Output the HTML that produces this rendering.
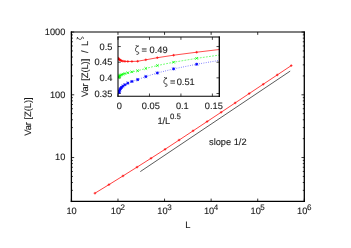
<!DOCTYPE html>
<html><head><meta charset="utf-8"><title>plot</title>
<style>html,body{margin:0;padding:0;background:#fff;}svg{display:block;will-change:transform;}text{font-family:"Liberation Sans",sans-serif;font-size:9.25px;fill:#1a1a1a;text-rendering:geometricPrecision;stroke:#1a1a1a;stroke-width:0.12px;}</style></head><body>
<svg width="351" height="248" viewBox="0 0 351 248">
<rect x="0" y="0" width="351" height="248" fill="#ffffff"/>
<path d="M71.40 201.40 v-2.80 M71.40 32.05 v2.80 M117.98 201.40 v-2.80 M117.98 32.05 v2.80 M164.56 201.40 v-2.80 M164.56 32.05 v2.80 M211.14 201.40 v-2.80 M211.14 32.05 v2.80 M257.72 201.40 v-2.80 M257.72 32.05 v2.80 M304.30 201.40 v-2.80 M304.30 32.05 v2.80 M71.40 157.54 h2.80 M304.30 157.54 h-2.80 M71.40 94.80 h2.80 M304.30 94.80 h-2.80 M71.40 32.05 h2.80 M304.30 32.05 h-2.80 M71.40 201.40 h1.50 M304.30 201.40 h-1.50 M71.40 190.35 h1.50 M304.30 190.35 h-1.50 M71.40 182.51 h1.50 M304.30 182.51 h-1.50 M71.40 176.43 h1.50 M304.30 176.43 h-1.50 M71.40 171.46 h1.50 M304.30 171.46 h-1.50 M71.40 167.26 h1.50 M304.30 167.26 h-1.50 M71.40 163.62 h1.50 M304.30 163.62 h-1.50 M71.40 160.41 h1.50 M304.30 160.41 h-1.50 M71.40 138.65 h1.50 M304.30 138.65 h-1.50 M71.40 127.60 h1.50 M304.30 127.60 h-1.50 M71.40 119.77 h1.50 M304.30 119.77 h-1.50 M71.40 113.68 h1.50 M304.30 113.68 h-1.50 M71.40 108.72 h1.50 M304.30 108.72 h-1.50 M71.40 104.52 h1.50 M304.30 104.52 h-1.50 M71.40 100.88 h1.50 M304.30 100.88 h-1.50 M71.40 97.67 h1.50 M304.30 97.67 h-1.50 M71.40 75.91 h1.50 M304.30 75.91 h-1.50 M71.40 64.86 h1.50 M304.30 64.86 h-1.50 M71.40 57.02 h1.50 M304.30 57.02 h-1.50 M71.40 50.94 h1.50 M304.30 50.94 h-1.50 M71.40 45.97 h1.50 M304.30 45.97 h-1.50 M71.40 41.77 h1.50 M304.30 41.77 h-1.50 M71.40 38.13 h1.50 M304.30 38.13 h-1.50 M71.40 34.92 h1.50 M304.30 34.92 h-1.50" stroke="#000" stroke-width="0.8" fill="none"/>
<polyline points="94.93,193.21 108.95,184.65 122.97,175.94 137.00,167.15 151.02,158.29 165.04,149.31 179.06,140.09 193.08,130.84 207.11,121.56 221.13,112.27 235.15,102.93 249.17,93.58 263.19,84.26 277.22,74.94 291.24,65.61" fill="none" stroke="#ff0000" stroke-width="0.75"/>
<path d="M93.63 193.21 h2.6 M94.93 191.91 v2.6 M107.65 184.65 h2.6 M108.95 183.35 v2.6 M121.67 175.94 h2.6 M122.97 174.64 v2.6 M135.70 167.15 h2.6 M137.00 165.85 v2.6 M149.72 158.29 h2.6 M151.02 156.99 v2.6 M163.74 149.31 h2.6 M165.04 148.01 v2.6 M177.76 140.09 h2.6 M179.06 138.79 v2.6 M191.78 130.84 h2.6 M193.08 129.54 v2.6 M205.81 121.56 h2.6 M207.11 120.26 v2.6 M219.83 112.27 h2.6 M221.13 110.97 v2.6 M233.85 102.93 h2.6 M235.15 101.63 v2.6 M247.87 93.58 h2.6 M249.17 92.28 v2.6 M261.89 84.26 h2.6 M263.19 82.96 v2.6 M275.92 74.94 h2.6 M277.22 73.64 v2.6 M289.94 65.61 h2.6 M291.24 64.31 v2.6" stroke="#ff0000" stroke-width="0.7" fill="none"/>
<line x1="140.30" y1="171.60" x2="290.20" y2="71.10" stroke="#000" stroke-width="0.65"/>
<g stroke="#000" stroke-linecap="square" fill="none">
<line x1="71.40" y1="32.05" x2="71.40" y2="201.40" stroke-width="1.3"/>
<line x1="71.40" y1="32.05" x2="304.30" y2="32.05" stroke-width="1.05"/>
<line x1="304.30" y1="32.05" x2="304.30" y2="201.40" stroke-width="1.3"/>
<line x1="71.40" y1="201.40" x2="304.30" y2="201.40" stroke-width="1.3"/>
</g>
<rect x="118.00" y="37.05" width="101.30" height="59.25" fill="#fff" stroke="none"/>
<clipPath id="ic"><rect x="118.00" y="35.05" width="101.30" height="63.25"/></clipPath>
<path d="M118.00 96.30 v-2.80 M118.00 37.05 v2.80 M149.47 96.30 v-2.80 M149.47 37.05 v2.80 M180.93 96.30 v-2.80 M180.93 37.05 v2.80 M212.39 96.30 v-2.80 M212.39 37.05 v2.80 M118.00 93.50 h2.80 M219.30 93.50 h-2.80 M118.00 77.85 h2.80 M219.30 77.85 h-2.80 M118.00 62.20 h2.80 M219.30 62.20 h-2.80 M118.00 46.55 h2.80 M219.30 46.55 h-2.80" stroke="#000" stroke-width="0.72" fill="none"/>
<g clip-path="url(#ic)">
<polyline points="229.25,48.32 196.66,52.21 173.62,55.20 157.33,57.71 145.81,59.80 137.67,61.25 131.91,61.44 127.83,61.45 124.95,61.35 122.92,61.13 121.48,60.73 120.46,60.19 119.74,59.87 119.23,59.51 118.87,59.16 118.45,58.20" fill="none" stroke="#ff0000" stroke-width="0.7"/>
<path d="M227.95 48.32 h2.6 M229.25 47.02 v2.6 M195.36 52.21 h2.6 M196.66 50.91 v2.6 M172.32 55.20 h2.6 M173.62 53.90 v2.6 M156.03 57.71 h2.6 M157.33 56.41 v2.6 M144.51 59.80 h2.6 M145.81 58.50 v2.6 M136.37 61.25 h2.6 M137.67 59.95 v2.6 M130.61 61.44 h2.6 M131.91 60.14 v2.6 M126.53 61.45 h2.6 M127.83 60.15 v2.6 M123.65 61.35 h2.6 M124.95 60.05 v2.6 M121.62 61.13 h2.6 M122.92 59.83 v2.6 M120.18 60.73 h2.6 M121.48 59.43 v2.6 M119.16 60.19 h2.6 M120.46 58.89 v2.6 M118.44 59.87 h2.6 M119.74 58.57 v2.6 M117.93 59.51 h2.6 M119.23 58.21 v2.6 M117.57 59.16 h2.6 M118.87 57.86 v2.6 M117.15 58.20 h2.6 M118.45 56.90 v2.6" stroke="#ff0000" stroke-width="0.7" fill="none"/>
<polyline points="229.25,53.59 196.66,58.35 173.62,62.20 157.33,65.55 145.81,68.46 137.67,70.74 131.91,71.84 127.83,72.75 124.95,73.56 122.92,74.25 121.48,74.78 120.46,75.19 119.74,75.78 119.23,76.35 118.87,76.91 118.45,77.60" fill="none" stroke="#00ff00" stroke-width="0.55" stroke-dasharray="1.9 1.2"/>
<path d="M227.95 52.29 l2.6 2.6 M227.95 54.89 l2.6 -2.6 M195.36 57.05 l2.6 2.6 M195.36 59.65 l2.6 -2.6 M172.32 60.90 l2.6 2.6 M172.32 63.50 l2.6 -2.6 M156.03 64.25 l2.6 2.6 M156.03 66.85 l2.6 -2.6 M144.51 67.16 l2.6 2.6 M144.51 69.76 l2.6 -2.6 M136.37 69.44 l2.6 2.6 M136.37 72.04 l2.6 -2.6 M130.61 70.54 l2.6 2.6 M130.61 73.14 l2.6 -2.6 M126.53 71.45 l2.6 2.6 M126.53 74.05 l2.6 -2.6 M123.65 72.26 l2.6 2.6 M123.65 74.86 l2.6 -2.6 M121.62 72.95 l2.6 2.6 M121.62 75.55 l2.6 -2.6 M120.18 73.48 l2.6 2.6 M120.18 76.08 l2.6 -2.6 M119.16 73.89 l2.6 2.6 M119.16 76.49 l2.6 -2.6 M118.44 74.48 l2.6 2.6 M118.44 77.08 l2.6 -2.6 M117.93 75.05 l2.6 2.6 M117.93 77.65 l2.6 -2.6 M117.57 75.61 l2.6 2.6 M117.57 78.21 l2.6 -2.6 M117.15 76.30 l2.6 2.6 M117.15 78.90 l2.6 -2.6" stroke="#00ff00" stroke-width="0.8" fill="none"/>
<polyline points="229.25,58.68 196.66,64.24 173.62,68.87 157.33,72.97 145.81,76.60 137.67,79.60 131.91,81.47 127.83,83.15 124.95,84.72 122.92,86.16 121.48,87.45 120.46,88.61 119.74,89.93 119.23,91.21 118.87,92.48" fill="none" stroke="#0000ff" stroke-width="0.6" stroke-dasharray="0.8 1.5"/>
<path d="M227.95 57.38 l2.6 2.6 M227.95 59.98 l2.6 -2.6 M227.75 58.68 h3 M229.25 57.18 v3 M195.36 62.94 l2.6 2.6 M195.36 65.54 l2.6 -2.6 M195.16 64.24 h3 M196.66 62.74 v3 M172.32 67.57 l2.6 2.6 M172.32 70.17 l2.6 -2.6 M172.12 68.87 h3 M173.62 67.37 v3 M156.03 71.67 l2.6 2.6 M156.03 74.27 l2.6 -2.6 M155.83 72.97 h3 M157.33 71.47 v3 M144.51 75.30 l2.6 2.6 M144.51 77.90 l2.6 -2.6 M144.31 76.60 h3 M145.81 75.10 v3 M136.37 78.30 l2.6 2.6 M136.37 80.90 l2.6 -2.6 M136.17 79.60 h3 M137.67 78.10 v3 M130.61 80.17 l2.6 2.6 M130.61 82.77 l2.6 -2.6 M130.41 81.47 h3 M131.91 79.97 v3 M126.53 81.85 l2.6 2.6 M126.53 84.45 l2.6 -2.6 M126.33 83.15 h3 M127.83 81.65 v3 M123.65 83.42 l2.6 2.6 M123.65 86.02 l2.6 -2.6 M123.45 84.72 h3 M124.95 83.22 v3 M121.62 84.86 l2.6 2.6 M121.62 87.46 l2.6 -2.6 M121.42 86.16 h3 M122.92 84.66 v3 M120.18 86.15 l2.6 2.6 M120.18 88.75 l2.6 -2.6 M119.98 87.45 h3 M121.48 85.95 v3 M119.16 87.31 l2.6 2.6 M119.16 89.91 l2.6 -2.6 M118.96 88.61 h3 M120.46 87.11 v3 M118.44 88.63 l2.6 2.6 M118.44 91.23 l2.6 -2.6 M118.24 89.93 h3 M119.74 88.43 v3 M117.93 89.91 l2.6 2.6 M117.93 92.51 l2.6 -2.6 M117.73 91.21 h3 M119.23 89.71 v3 M117.57 91.18 l2.6 2.6 M117.57 93.78 l2.6 -2.6 M117.37 92.48 h3 M118.87 90.98 v3" stroke="#0000ff" stroke-width="0.85" fill="none"/>
</g>
<g stroke="#000" stroke-linecap="square" fill="none">
<line x1="118.00" y1="37.05" x2="118.00" y2="96.30" stroke-width="1.05"/>
<line x1="118.00" y1="37.05" x2="219.30" y2="37.05" stroke-width="1.05"/>
<line x1="219.30" y1="37.05" x2="219.30" y2="96.30" stroke-width="1.3"/>
<line x1="118.00" y1="96.30" x2="219.30" y2="96.30" stroke-width="1.1"/>
</g>
<filter id="nf" x="0" y="0" width="351" height="248" filterUnits="userSpaceOnUse"><feGaussianBlur stdDeviation="0.28"/></filter><g filter="url(#nf)">
<text x="65.4" y="34.85" text-anchor="end">1000</text>
<text x="65.4" y="97.60" text-anchor="end">100</text>
<text x="65.4" y="160.34" text-anchor="end">10</text>
<text x="71.60" y="214.15" text-anchor="middle">10</text>
<text x="110.78" y="214.15">10<tspan font-size="8" dx="-0.5" dy="-4.1">2</tspan></text>
<text x="157.36" y="214.15">10<tspan font-size="8" dx="-0.5" dy="-4.1">3</tspan></text>
<text x="203.94" y="214.15">10<tspan font-size="8" dx="-0.5" dy="-4.1">4</tspan></text>
<text x="250.52" y="214.15">10<tspan font-size="8" dx="-0.5" dy="-4.1">5</tspan></text>
<text x="297.10" y="214.15">10<tspan font-size="8" dx="-0.5" dy="-4.1">6</tspan></text>
<text x="187.8" y="227.6" text-anchor="middle">L</text>
<text transform="translate(31.4 116.6) rotate(-90)" text-anchor="middle">Var [Z(L)]</text>
<text x="209" y="144.6">slope 1/2</text>
<text x="112.4" y="49.55" text-anchor="end">0.5</text>
<text x="112.4" y="65.20" text-anchor="end">0.45</text>
<text x="112.4" y="80.85" text-anchor="end">0.4</text>
<text x="112.4" y="96.50" text-anchor="end">0.35</text>
<text x="119.40" y="109" text-anchor="middle">0</text>
<text x="150.87" y="109" text-anchor="middle">0.05</text>
<text x="182.33" y="109" text-anchor="middle">0.1</text>
<text x="213.79" y="109" text-anchor="middle">0.15</text>
<text x="157.4" y="123.8">1/L<tspan font-size="7.8" dx="-0.3" dy="-4.5">0.5</tspan></text>
<text transform="translate(87.6 97.1) rotate(-90)">Var [Z(L)] <tspan dx="3.2">/</tspan><tspan dx="4.5">L</tspan></text>
<path transform="translate(82.5 39.75) rotate(-90) scale(0.73)" d="M1.0 -7.6 C0.9 -6.9 1.8 -6.7 3.6 -7.0 C1.6 -6.3 0.5 -5.0 0.5 -3.4 C0.5 -1.9 1.0 -1.4 2.3 -1.2 C3.5 -1.0 3.9 -0.4 3.7 0.4 C3.5 1.1 2.8 1.5 1.9 1.4" fill="none" stroke="#1a1a1a" stroke-width="1.0" stroke-linecap="round"/>
<path transform="translate(135 53)" d="M1.0 -7.6 C0.9 -6.9 1.8 -6.7 3.6 -7.0 C1.6 -6.3 0.5 -5.0 0.5 -3.4 C0.5 -1.9 1.0 -1.4 2.3 -1.2 C3.5 -1.0 3.9 -0.4 3.7 0.4 C3.5 1.1 2.8 1.5 1.9 1.4" fill="none" stroke="#1a1a1a" stroke-width="0.85" stroke-linecap="round"/>
<text x="141.6" y="53">=<tspan x="149.6">0.49</tspan></text>
<path transform="translate(163.4 85)" d="M1.0 -7.6 C0.9 -6.9 1.8 -6.7 3.6 -7.0 C1.6 -6.3 0.5 -5.0 0.5 -3.4 C0.5 -1.9 1.0 -1.4 2.3 -1.2 C3.5 -1.0 3.9 -0.4 3.7 0.4 C3.5 1.1 2.8 1.5 1.9 1.4" fill="none" stroke="#1a1a1a" stroke-width="0.85" stroke-linecap="round"/>
<text x="170" y="85">=<tspan x="176.7">0.51</tspan></text>
</g>
</svg></body></html>
